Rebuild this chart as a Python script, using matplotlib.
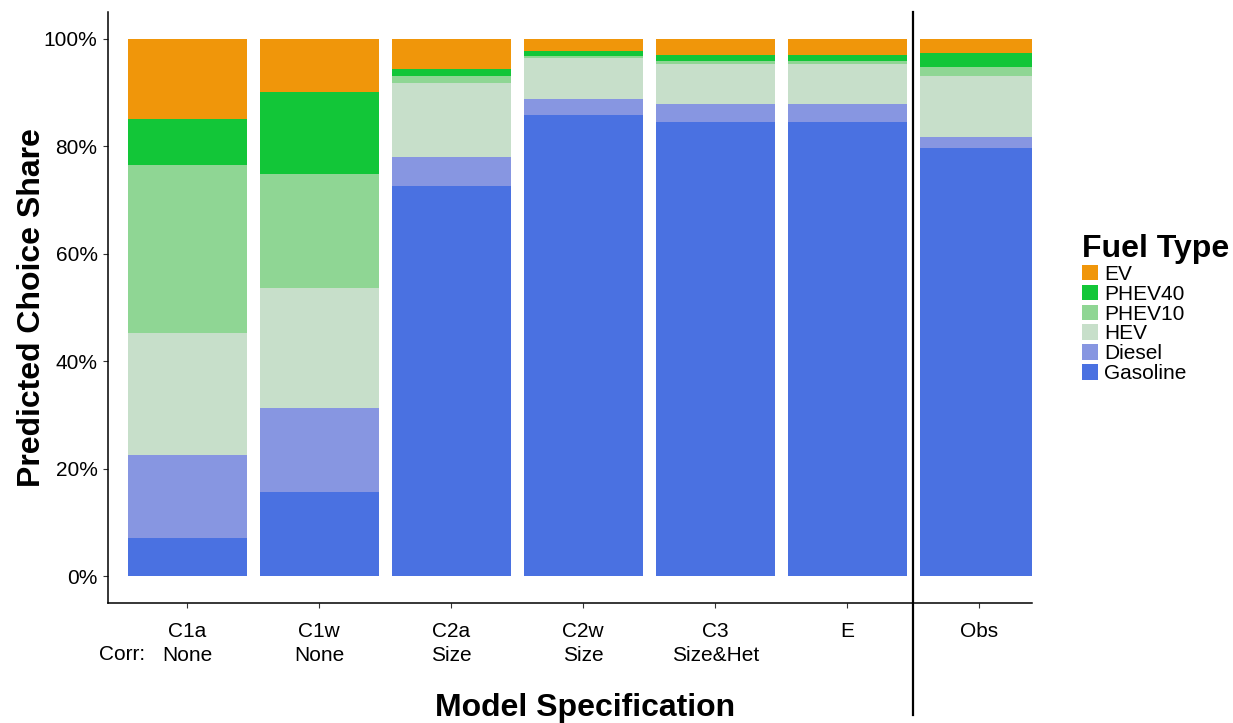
import numpy as np
import matplotlib.pyplot as plt

plt.rcParams['font.family'] = ['Liberation Sans', 'DejaVu Sans']

models = ['C1a', 'C1w', 'C2a', 'C2w', 'C3', 'E', 'Obs']
corr = ['None', 'None', 'Size', 'Size', 'Size&Het', '', '']
fuels = ['Gasoline', 'Diesel', 'HEV', 'PHEV10', 'PHEV40', 'EV']
colors = ['#4A71E1', '#8796E1', '#C7DFCA', '#8FD694', '#12C638', '#F0960A']

# shares in % per model (bottom to top)
gasoline = [7.1, 15.7, 72.6, 85.9, 84.5, 84.5, 79.7]
diesel = [15.5, 15.6, 5.5, 3.0, 3.3, 3.3, 2.1]
hev = [22.7, 22.4, 13.7, 7.6, 7.5, 7.5, 11.2]
phev10 = [31.2, 21.1, 1.3, 0.4, 0.6, 0.6, 1.8]
phev40 = [8.6, 15.3, 1.2, 0.9, 1.1, 1.1, 2.6]
ev = [14.9, 9.9, 5.7, 2.2, 3.0, 3.0, 2.6]

series = [gasoline, diesel, hev, phev10, phev40, ev]

fig = plt.figure(figsize=(12.33, 7.23), dpi=100)
ax = fig.add_axes([108/1233, 1-603/723, (1032-108)/1233, (603-12)/723])

x = np.arange(len(models))
bottom = np.zeros(len(models))
handles = []
for vals, name, col in zip(series, fuels, colors):
    b = ax.bar(x, vals, width=0.9, bottom=bottom, color=col, label=name, linewidth=0)
    handles.append(b)
    bottom += np.array(vals)

ax.set_xlim(-0.6, 6.4)
ax.set_ylim(-5, 105)
ax.set_yticks([0, 20, 40, 60, 80, 100])
ax.set_yticklabels(['0%', '20%', '40%', '60%', '80%', '100%'], fontsize=15)
ax.set_xticks(x)
labels = [m + '\n' + c for m, c in zip(models, corr)]
ax.set_xticklabels(labels, fontsize=15, linespacing=1.32, va='top')
ax.tick_params(axis='x', length=3.5, pad=10.5, color='#333333')
ax.tick_params(axis='y', length=3.5, pad=4, color='#333333')

for s in ['top', 'right']:
    ax.spines[s].set_visible(False)
for s in ['left', 'bottom']:
    ax.spines[s].set_linewidth(1.1)

# separator between models and observed
trans = ax.get_xaxis_transform()
ax.plot([5.5, 5.5], [-0.19, 1.0], color='black', lw=1.6, transform=trans, clip_on=False)

fig.text(145/1233, 1-654/723, 'Corr:', ha='right', va='center', fontsize=15)
fig.text(585/1233, 1-708/723, 'Model Specification', ha='center', va='center',
         fontsize=23, fontweight='bold')
ax.set_ylabel('Predicted Choice Share', fontsize=23, fontweight='bold', labelpad=-2)

leg = fig.legend(handles[::-1], fuels[::-1], loc='upper left',
                 bbox_to_anchor=(1082/1233, 1-234/723), frameon=False,
                 fontsize=15, title='Fuel Type', alignment='left',
                 handlelength=0.77, handleheight=0.77, labelspacing=0.04,
                 handletextpad=0.3, borderpad=0, borderaxespad=0)
leg.get_title().set_fontsize(23)
leg.get_title().set_fontweight('bold')

fig.savefig('out.png', dpi=100)
